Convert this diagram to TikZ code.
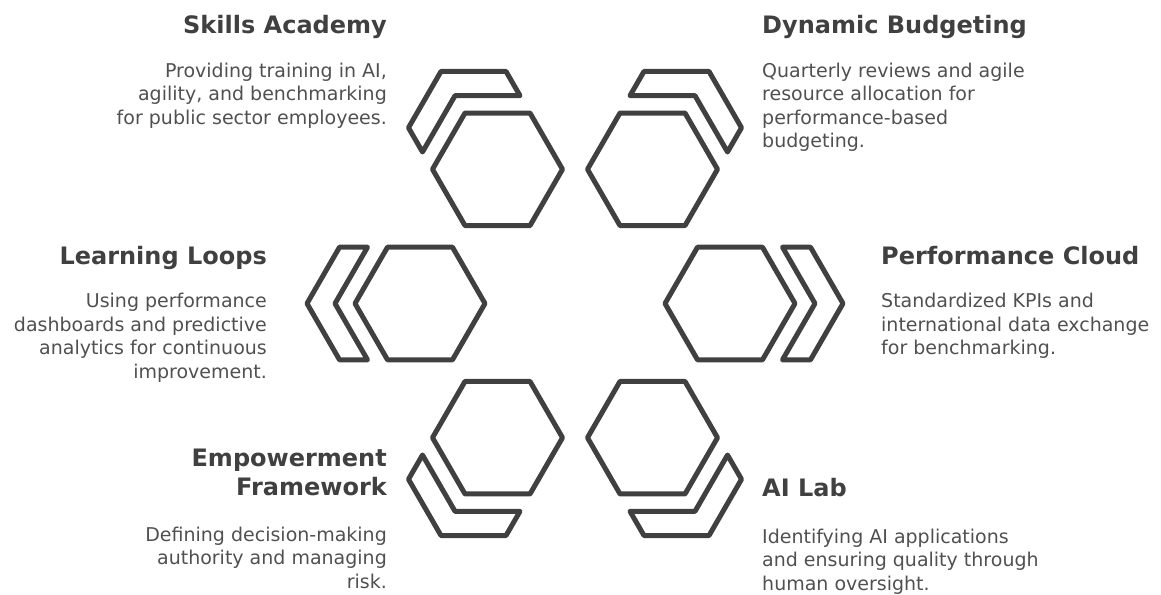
\documentclass[tikz,border=0pt]{standalone}
\usepackage{fontspec}
\setmainfont{DejaVu Sans}
\definecolor{ink}{HTML}{404040}
\definecolor{txt}{HTML}{505050}
\begin{document}
\begin{tikzpicture}[x=1pt,y=1pt,
  shapeline/.style={draw=ink,line width=5pt,line join=round},
  title/.style={font=\fontsize{24}{29}\selectfont\bfseries, text=ink, inner sep=0pt},
  body/.style={font=\fontsize{19}{23.5}\selectfont, text=txt, inner sep=0pt},
]
\useasboundingbox (0,0) rectangle (1161,594);
% six hexagons on a ring, each with a chevron band around its outer corner
\foreach \cx/\cy/\ang/\nm in {497.5/424.7/120/skills, 652.5/424.7/60/budget, 420/290.5/180/loops, 730/290.5/0/cloud, 497.5/156.3/240/empower, 652.5/156.3/300/lab}{
  \begin{scope}[shift={(\cx,\cy)}, rotate=\ang]
    \coordinate (hex-\nm) at (0,0);
    \draw[shapeline] (0:65) -- (60:65) -- (120:65) -- (180:65) -- (240:65) -- (300:65) -- cycle;
    \draw[shapeline] (113,0) -- (80.5,56.3) -- (52.5,56.3) -- (85,0) -- (52.5,-56.3) -- (80.5,-56.3) -- cycle;
  \end{scope}
}
% labels, left column
\node[title, anchor=base east] (t-skills) at (387,560) {Skills Academy};
\node[body, anchor=north east, align=right] (b-skills) at (387,531.5)
  {Providing training in AI,\\agility, and benchmarking\\for public sector employees.};
\node[title, anchor=base east] (t-loops) at (267,329) {Learning Loops};
\node[body, anchor=north east, align=right] (b-loops) at (267,301)
  {Using performance\\dashboards and predictive\\analytics for continuous\\improvement.};
\node[title, anchor=north east, align=right] (t-empower) at (387,145.5) {Empowerment\\Framework};
\node[body, anchor=north east, align=right] (b-empower) at (387,67.5)
  {Defining decision-making\\authority and managing\\risk.};
% labels, right column
\node[title, anchor=base west] (t-budget) at (762,560) {Dynamic Budgeting};
\node[body, anchor=north west, align=left] (b-budget) at (762,531.5)
  {Quarterly reviews and agile\\resource allocation for\\performance-based\\budgeting.};
\node[title, anchor=base west] (t-cloud) at (881,329) {Performance Cloud};
\node[body, anchor=north west, align=left] (b-cloud) at (881,301)
  {Standardized KPIs and\\international data exchange\\for benchmarking.};
\node[title, anchor=base west] (t-lab) at (762,97) {AI Lab};
\node[body, anchor=north west, align=left] (b-lab) at (762,65.5)
  {Identifying AI applications\\and ensuring quality through\\human oversight.};
\end{tikzpicture}
\end{document}
